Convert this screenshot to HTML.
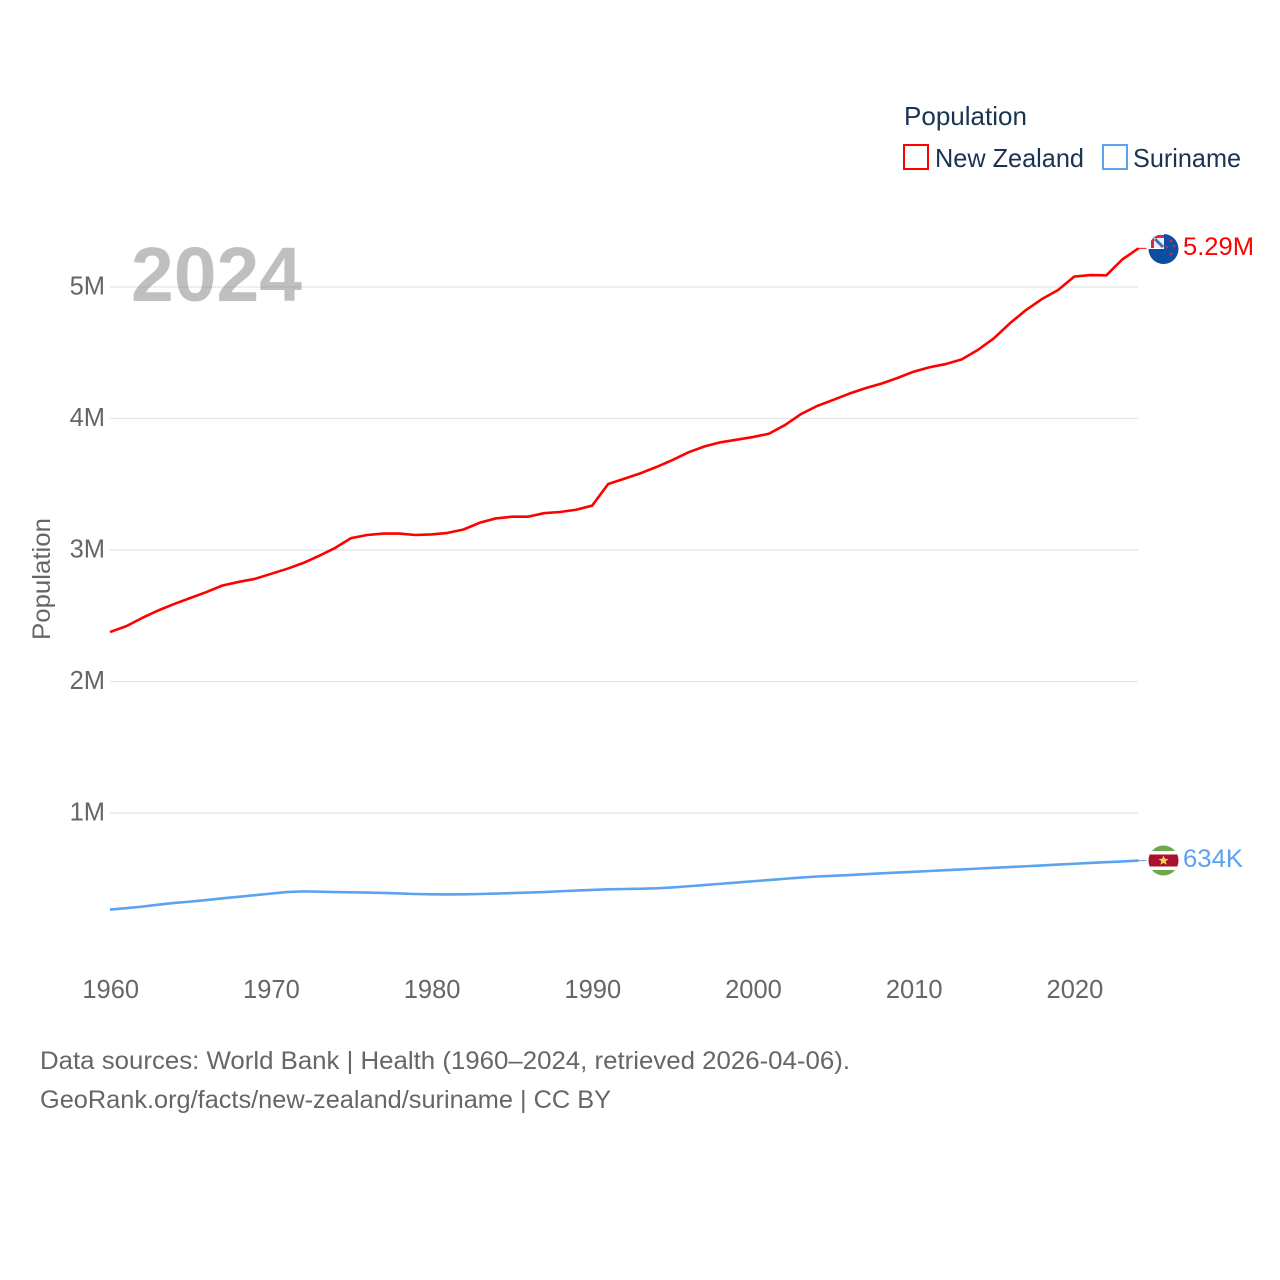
<!DOCTYPE html>
<html lang="en">
<head>
<meta charset="utf-8">
<title>Population: New Zealand and Suriname</title>
<style>
html,body{margin:0;padding:0;background:#fff;width:1280px;height:1280px;overflow:hidden}
svg{display:block;font-family:"Liberation Sans",sans-serif}
</style>
</head>
<body>
<svg id="chart" xmlns="http://www.w3.org/2000/svg" width="1280" height="1280" viewBox="0 0 1280 1280">
  <defs>
    <clipPath id="nz-clip"><circle cx="1163.5" cy="249" r="15"/></clipPath>
    <clipPath id="sr-clip"><circle cx="1163.5" cy="860.500" r="15"/></clipPath>
  </defs>
  <rect x="0" y="0" width="1280" height="1280" fill="#fff"/>
  <g id="grid"></g>
  <text x="131" y="301" font-size="77" font-weight="700" fill="#808080" fill-opacity="0.5" textLength="171" lengthAdjust="spacingAndGlyphs">2024</text>
  <g id="y-ticks"></g>
  <g id="x-ticks"></g>
  <text transform="translate(50 640) rotate(-90)" font-size="25" fill="#666" textLength="122" lengthAdjust="spacingAndGlyphs">Population</text>
  <g id="series"></g>

  <g clip-path="url(#nz-clip)">
    <rect x="1148" y="233" width="31" height="32" fill="#0b4ea2"/>
    <rect x="1148" y="233" width="16" height="16" fill="#fff"/>
    <rect x="1151" y="235" width="13" height="13" fill="#d8274a"/>
    <rect x="1154" y="238" width="10" height="10" fill="#e8edf6"/>
    <path d="M1155 239l8 8" stroke="#4a6cb0" stroke-width="3" fill="none"/>
    <circle cx="1171" cy="241" r="1.300" fill="#d8274a"/>
    <circle cx="1167" cy="247" r="1.300" fill="#d8274a"/>
    <circle cx="1174" cy="246" r="1.300" fill="#d8274a"/>
    <circle cx="1171" cy="254" r="1.300" fill="#d8274a"/>
  </g>
  <g clip-path="url(#sr-clip)">
    <rect x="1148" y="845" width="31" height="32" fill="#6fa84a"/>
    <rect x="1148" y="851" width="31" height="19" fill="#fff"/>
    <rect x="1148" y="854.500" width="31" height="12" fill="#a9112e"/>
    <path d="M1163.500 855.500l1.400 3.300 3.600.2-2.800 2.300.9 3.500-3.100-1.900-3.100 1.900.9-3.500-2.800-2.300 3.600-.2z" fill="#f4d44d"/>
  </g>

  <text x="1183" y="255" font-size="25" fill="#ff0000" textLength="71" lengthAdjust="spacingAndGlyphs">5.29M</text>
  <text x="1183" y="867" font-size="25" fill="#5ba3ee" textLength="60" lengthAdjust="spacingAndGlyphs">634K</text>

  <g>
    <text x="904" y="125" font-size="26" fill="#1a3353" textLength="123" lengthAdjust="spacingAndGlyphs">Population</text>
    <rect x="904" y="145" width="24" height="24" fill="none" stroke="#ff0000" stroke-width="2"/>
    <text x="935" y="167" font-size="26" fill="#1a3353" textLength="149" lengthAdjust="spacingAndGlyphs">New Zealand</text>
    <rect x="1103" y="145" width="24" height="24" fill="none" stroke="#5ba3ee" stroke-width="2"/>
    <text x="1133" y="167" font-size="26" fill="#1a3353" textLength="108" lengthAdjust="spacingAndGlyphs">Suriname</text>
  </g>

  <text x="40" y="1069" font-size="25" fill="#666" textLength="810" lengthAdjust="spacingAndGlyphs">Data sources: World Bank | Health (1960–2024, retrieved 2026-04-06).</text>
  <text x="40" y="1108" font-size="25" fill="#666" textLength="571" lengthAdjust="spacingAndGlyphs">GeoRank.org/facts/new-zealand/suriname | CC BY</text>
</svg>
<script>
const startYear = 1960;
const newZealand = [
  2.376,2.42,2.483,2.54,2.59,2.635,2.68,2.73,2.757,2.78,
  2.818,2.856,2.90,2.955,3.015,3.09,3.114,3.125,3.125,3.114,
  3.118,3.13,3.156,3.207,3.24,3.253,3.253,3.28,3.289,3.306,
  3.337,3.502,3.542,3.583,3.631,3.684,3.743,3.788,3.819,3.839,
  3.859,3.884,3.95,4.034,4.095,4.141,4.189,4.23,4.265,4.308,
  4.356,4.39,4.414,4.45,4.521,4.61,4.724,4.825,4.909,4.977,
  5.079,5.091,5.089,5.21,5.294
];
const suriname = [
  .266,.276,.288,.303,.316,.326,.338,.351,.363,.375,
  .387,.399,.404,.402,.399,.397,.395,.392,.388,.384,
  .382,.381,.382,.384,.387,.391,.395,.399,.405,.41,
  .415,.42,.422,.424,.427,.434,.443,.452,.462,.471,
  .481,.49,.5,.509,.517,.522,.528,.535,.541,.547,
  .553,.559,.565,.571,.577,.583,.589,.595,.601,.608,
  .614,.62,.626,.632,.638
];
const yTickValues = [1,2,3,4,5];
const yTickLabels = ["1M","2M","3M","4M","5M"];
const xTickValues = [1960,1970,1980,1990,2000,2010,2020];

const NS = "http://www.w3.org/2000/svg";
function xScale(year){ return 110 + (year - 1960) * 16.07; }
function yScale(millions){ return 944.5 - millions * 131.5; }

const gridG = document.getElementById("grid");
const yTickG = document.getElementById("y-ticks");
const xTickG = document.getElementById("x-ticks");
const seriesG = document.getElementById("series");

yTickValues.forEach(function(v, i){
  const line = document.createElementNS(NS, "line");
  line.setAttribute("x1", 110);
  line.setAttribute("x2", 1138);
  line.setAttribute("y1", yScale(v));
  line.setAttribute("y2", yScale(v));
  line.setAttribute("stroke", "#e4e4e4");
  line.setAttribute("stroke-width", 1.2);
  
  
  gridG.appendChild(line);

  const label = document.createElementNS(NS, "text");
  label.setAttribute("x", 105);
  label.setAttribute("y", yScale(v) + 7.5);
  label.setAttribute("text-anchor", "end");
  label.setAttribute("font-size", 25.5);
  label.setAttribute("fill", "#666");
  label.textContent = yTickLabels[i];
  
  
  yTickG.appendChild(label);
});

xTickValues.forEach(function(year){
  const label = document.createElementNS(NS, "text");
  label.setAttribute("x", xScale(year) + 0.7);
  label.setAttribute("y", 998);
  label.setAttribute("text-anchor", "middle");
  label.setAttribute("font-size", 25.5);
  label.setAttribute("fill", "#666");
  label.textContent = String(year);
  
  
  xTickG.appendChild(label);
});

function linePath(values){
  return values.map(function(v, i){
    return (i ? "L" : "M") + xScale(startYear + i).toFixed(2) + " " + yScale(v).toFixed(2);
  }).join("");
}
function lastPoint(values){
  const i = values.length - 1;
  return [xScale(startYear + i), yScale(values[i])];
}

const nzLine = document.createElementNS(NS, "path");
nzLine.setAttribute("d", linePath(newZealand));
nzLine.setAttribute("fill", "none");
nzLine.setAttribute("stroke", "#ff0000");
nzLine.setAttribute("stroke-width", 2.6);
nzLine.setAttribute("stroke-linejoin", "round");


seriesG.appendChild(nzLine);

const srLine = document.createElementNS(NS, "path");
srLine.setAttribute("d", linePath(suriname));
srLine.setAttribute("fill", "none");
srLine.setAttribute("stroke", "#5ba3ee");
srLine.setAttribute("stroke-width", 2.6);
srLine.setAttribute("stroke-linejoin", "round");


seriesG.appendChild(srLine);

const nzEnd = lastPoint(newZealand);
const nzLeader = document.createElementNS(NS, "line");
nzLeader.setAttribute("x1", nzEnd[0]);
nzLeader.setAttribute("x2", nzEnd[0] + 8);
nzLeader.setAttribute("y1", nzEnd[1]);
nzLeader.setAttribute("y2", nzEnd[1]);
nzLeader.setAttribute("stroke", "#ff0000");
nzLeader.setAttribute("stroke-width", 1);


seriesG.appendChild(nzLeader);

const srEnd = lastPoint(suriname);
const srLeader = document.createElementNS(NS, "line");
srLeader.setAttribute("x1", srEnd[0]);
srLeader.setAttribute("x2", srEnd[0] + 8);
srLeader.setAttribute("y1", srEnd[1]);
srLeader.setAttribute("y2", srEnd[1]);
srLeader.setAttribute("stroke", "#5ba3ee");
srLeader.setAttribute("stroke-width", 1);


seriesG.appendChild(srLeader);
</script>
</body>
</html>
